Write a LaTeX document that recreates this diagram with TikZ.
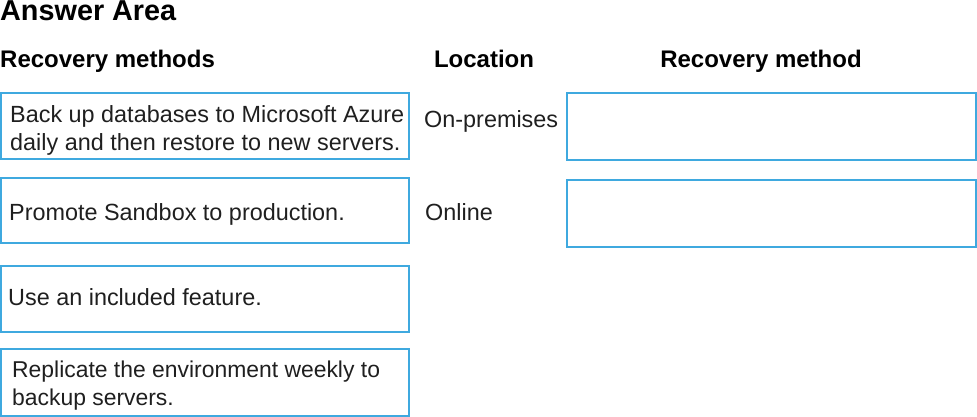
\documentclass[tikz,border=0pt]{standalone}
\usepackage{fontspec}
\setmainfont{Liberation Sans}
\definecolor{boxblue}{HTML}{3FA9DF}
\begin{document}
\begin{tikzpicture}[x=1pt,y=-1pt,
  optbox/.style={draw=boxblue,line width=1.8pt,inner sep=0pt,outer sep=0pt},
  body/.style={font=\fontsize{23.4}{28}\selectfont,text=black!88,inner sep=0pt,align=left},
  head/.style={font=\fontsize{24}{28}\selectfont\bfseries,inner sep=0pt}]
\useasboundingbox (0,0) rectangle (977,417);
% titles
\node[font=\fontsize{28.8}{32}\selectfont\bfseries,inner sep=0pt,anchor=base west] (title) at (0,21) {Answer Area};
\node[head,anchor=base west] (hrm) at (0,68) {Recovery methods};
\node[head,anchor=base] (hloc) at (484,68) {Location};
\node[head,anchor=base] (hmeth) at (761,68) {Recovery method};
% left boxes
\draw[optbox] (1,93) rectangle (409,159);
\draw[optbox] (1,178) rectangle (409,243);
\draw[optbox] (1,266) rectangle (409,332);
\draw[optbox] (1,349) rectangle (409,416);
\node[body,anchor=base west] (m1) at (10,150) {Back up databases to Microsoft Azure\\daily and then restore to new servers.};
\node[body,anchor=base west] (m2) at (9,220) {Promote Sandbox to production.};
\node[body,anchor=base west] (m3) at (8,305) {Use an included feature.};
\node[body,anchor=base west,font=\fontsize{22.9}{28}\selectfont] (m4) at (12,405) {Replicate the environment weekly to\\backup servers.};
% locations
\node[body,anchor=base west] (l1) at (424,128) {On-premises};
\node[body,anchor=base west] (l2) at (425,220) {Online};
% right boxes
\draw[optbox] (567,93) rectangle (976,160);
\draw[optbox] (567,180) rectangle (976,247);
\end{tikzpicture}
\end{document}
